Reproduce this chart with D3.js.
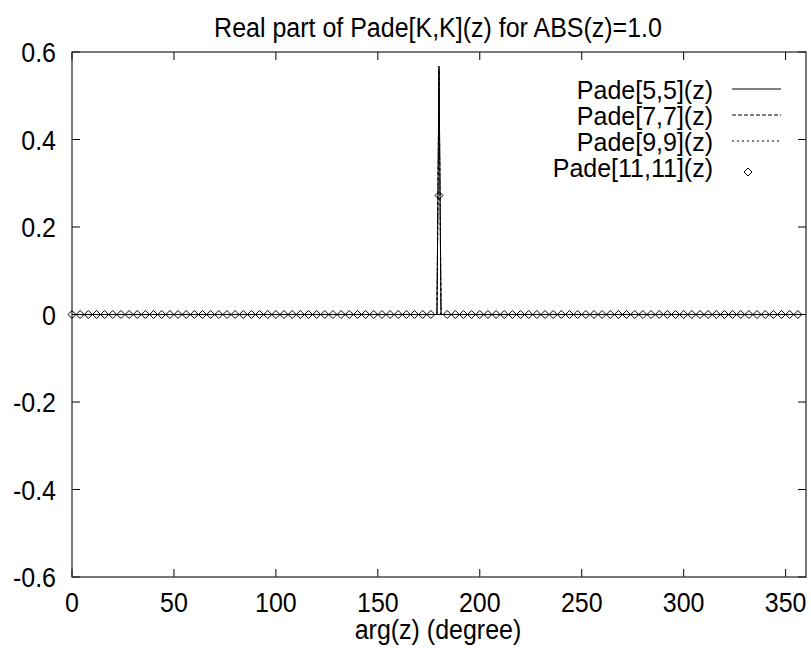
<!DOCTYPE html>
<html>
<head>
<meta charset="utf-8">
<script src="https://cdn.jsdelivr.net/npm/d3@7"></script>
<style>
  body { margin: 0; background: #fff; }
  svg { display: block; }
  text { font-family: "Liberation Sans", Arial, sans-serif; font-size: 25px; fill: #000; }
</style>
</head>
<body>
<div id="chart"></div>
<script>
// data
const xTicks = [0, 50, 100, 150, 200, 250, 300, 350];
const yTicks = [-0.6, -0.4, -0.2, 0, 0.2, 0.4, 0.6];

// the three lines are flat at zero except for the spike at 180 degrees
const lineAngles = [0, 179, 180, 181, 360];
const pade55 = [0, 0, 0.568, 0, 0];
const pade77 = [0, 0, 0.56, 0, 0];
const pade99 = [0, 0, 0.55, 0, 0];

// Pade[11,11] is drawn as points only
const pointAngles = [0, 4, 8, 12, 16, 20, 24, 28, 32, 36, 40, 44, 48, 52, 56, 60, 64, 68, 72, 76,
  80, 84, 88, 92, 96, 100, 104, 108, 112, 116, 120, 124, 128, 132, 136, 140, 144, 148, 152, 156,
  160, 164, 168, 172, 176, 180, 184, 188, 192, 196, 200, 204, 208, 212, 216, 220, 224, 228, 232,
  236, 240, 244, 248, 252, 256, 260, 264, 268, 272, 276, 280, 284, 288, 292, 296, 300, 304, 308,
  312, 316, 320, 324, 328, 332, 336, 340, 344, 348, 352, 356, 360];
const pade1111 = [0, 0, 0, 0, 0, 0, 0, 0, 0, 0, 0, 0, 0, 0, 0, 0, 0, 0, 0, 0,
  0, 0, 0, 0, 0, 0, 0, 0, 0, 0, 0, 0, 0, 0, 0, 0, 0, 0, 0, 0,
  0, 0, 0, 0, 0, 0.272, 0, 0, 0, 0, 0, 0, 0, 0, 0, 0, 0, 0, 0,
  0, 0, 0, 0, 0, 0, 0, 0, 0, 0, 0, 0, 0, 0, 0, 0, 0, 0, 0,
  0, 0, 0, 0, 0, 0, 0, 0, 0, 0, 0, 0];

const seriesNames = ["Pade[5,5](z)", "Pade[7,7](z)", "Pade[9,9](z)", "Pade[11,11](z)"];
const dashes = [null, "4,2", "2,3"];

const width = 811, height = 648;
const plotLeft = 72, plotRight = 806, plotTop = 52, plotBottom = 577;

const svg = d3.select("#chart").append("svg")
  .attr("width", width)
  .attr("height", height);

const x = d3.scaleLinear().domain([0, 360]).range([plotLeft, plotRight]);
const y = d3.scaleLinear().domain([-0.6, 0.6]).range([plotBottom, plotTop]);

// text is a bit taller than wide in the picture
function label(str, px, py, anchor, sy) {
  svg.append("text")
    .attr("transform", "translate(" + px + "," + py + ") scale(1," + (sy || 1.08) + ")")
    .attr("text-anchor", anchor)
    .text(str);
}

// zero axis
svg.append("line")
  .attr("x1", plotLeft).attr("x2", plotRight)
  .attr("y1", y(0)).attr("y2", y(0))
  .attr("stroke", "#000").attr("stroke-width", 1);

// ticks on all four sides, pointing inwards
const tickLen = 8;
xTicks.forEach(function(t) {
  svg.append("line").attr("x1", x(t)).attr("x2", x(t))
    .attr("y1", plotBottom).attr("y2", plotBottom - tickLen)
    .attr("stroke", "#000");
  svg.append("line").attr("x1", x(t)).attr("x2", x(t))
    .attr("y1", plotTop).attr("y2", plotTop + tickLen)
    .attr("stroke", "#000");
  label(t, x(t), 612, "middle");
});
yTicks.forEach(function(t) {
  svg.append("line").attr("x1", plotLeft).attr("x2", plotLeft + tickLen)
    .attr("y1", y(t)).attr("y2", y(t))
    .attr("stroke", "#000");
  svg.append("line").attr("x1", plotRight).attr("x2", plotRight - tickLen)
    .attr("y1", y(t)).attr("y2", y(t))
    .attr("stroke", "#000");
  label(t === 0 ? "0" : t.toFixed(1), 56, y(t) + 10, "end");
});

// frame
svg.append("rect")
  .attr("x", plotLeft).attr("y", plotTop)
  .attr("width", plotRight - plotLeft).attr("height", plotBottom - plotTop)
  .attr("fill", "none").attr("stroke", "#222").attr("stroke-width", 1.2);

// lines
const line = d3.line()
  .x(function(d) { return x(d[0]); })
  .y(function(d) { return y(d[1]); });

[pade55, pade77, pade99].forEach(function(vals, i) {
  const pts = lineAngles.map(function(a, j) { return [a, vals[j]]; });
  svg.append("path")
    .datum(pts)
    .attr("d", line)
    .attr("fill", "none")
    .attr("stroke", "#000")
    .attr("stroke-width", 1)
    .attr("stroke-dasharray", dashes[i]);
});

// diamonds
function diamond(cx, cy) {
  const w = 4, h = 4;
  return "M" + (cx - w) + "," + cy + "L" + cx + "," + (cy - h) +
    "L" + (cx + w) + "," + cy + "L" + cx + "," + (cy + h) + "Z";
}
svg.append("g").selectAll("path")
  .data(pointAngles.map(function(a, j) { return [a, pade1111[j]]; }))
  .enter().append("path")
  .attr("d", function(d) { return diamond(x(d[0]), y(d[1])); })
  .attr("fill", "none")
  .attr("stroke", "#000")
  .attr("stroke-width", 1);

// legend
const legendY = [99, 125, 151, 177];
seriesNames.forEach(function(name, i) {
  label(name, 713, legendY[i], "end", 1);
  const ly = legendY[i] - 10;
  if (i < 3) {
    svg.append("line")
      .attr("x1", 732).attr("x2", 781)
      .attr("y1", ly).attr("y2", ly)
      .attr("stroke", "#000")
      .attr("stroke-dasharray", dashes[i]);
  } else {
    svg.append("path")
      .attr("d", diamond(748, ly + 5))
      .attr("fill", "none")
      .attr("stroke", "#000");
  }
});

// titles
label("Real part of Pade[K,K](z) for ABS(z)=1.0", 438, 37, "middle");
label("arg(z) (degree)", 438, 639, "middle");
</script>
</body>
</html>
